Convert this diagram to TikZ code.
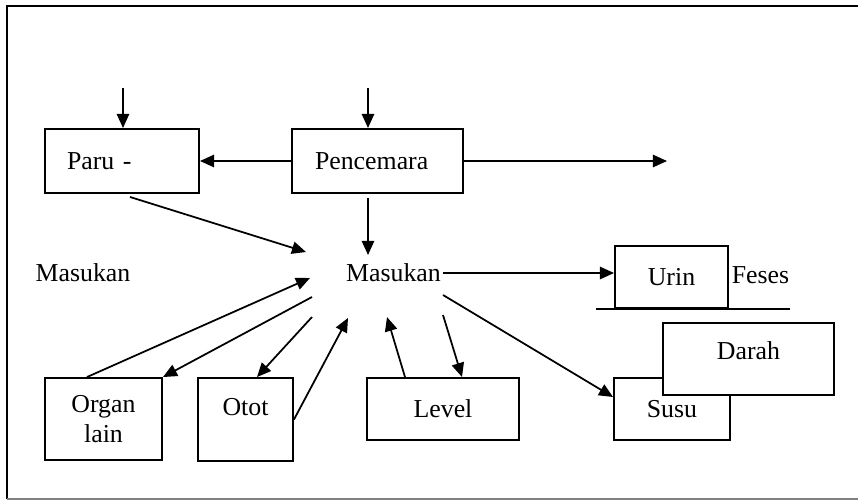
\documentclass[tikz,border=0pt]{standalone}
\usepackage{fontspec}
\setmainfont{Liberation Serif}
\usetikzlibrary{arrows.meta}
\usetikzlibrary{calc}
\newlength\px
\setlength\px{0.02cm}

\begin{document}
\begin{tikzpicture}[x=\px, y=-\px, font=\fontsize{14.7}{17}\selectfont,
	box/.style={draw, line width=1.1pt, inner sep=0pt, fill=white, align=center},
	flow/.style={-{Triangle[length=8pt,width=7pt]}, line width=1pt}]
	\useasboundingbox (0,0) rectangle (858,501);
	% frame
	\draw[line width=1.3pt] (858,6) -- (7,6) -- (7,499);
	\draw[line width=0.8pt, gray] (7,499) -- (858,499);

	% boxes
	\node[box, minimum width=154\px, minimum height=64\px, text width=110\px, align=left] (paru) at (122,161) {Paru -};
	\node[box, minimum width=171\px, minimum height=64\px, text width=125\px, align=left] (penc) at (377.5,161) {Pencemara};
	\node[box, minimum width=113\px, minimum height=62\px] (urin) at (671.5,277) {Urin};
	\node[box, minimum width=116\px, minimum height=62\px] (susu) at (672,409) {Susu};
	\node[box, minimum width=171\px, minimum height=72\px, text depth=10pt] (darah) at (748.5,359) {Darah};
	\node[box, minimum width=152\px, minimum height=62\px] (level) at (443,409) {Level};
	\node[box, minimum width=95\px, minimum height=83\px, text depth=14pt] (otot) at (245.5,419.5) {Otot};
	\node[box, minimum width=117\px, minimum height=82\px] (organ) at (103.5,419) {Organ\\lain};

	% texts
	\node[inner sep=1pt] (mas) at (393.5,273) {Masukan};
	\node[inner sep=1pt] (masl) at (83,273) {Masukan};
	\node[inner sep=1pt] (feses) at (760.5,275) {Feses};
	\draw[line width=1.1pt] ($(urin.south west)+(-18,0)$) -- ($(urin.south east)+(61,0)$);

	% free ends
	\coordinate (paruin) at (123,88);
	\coordinate (pencin) at (368,88);
	\coordinate (pencout) at (667,161);
	\coordinate (mA) at (443,295);
	\coordinate (mB) at (443,315);
	\coordinate (mC) at (387,317);
	\coordinate (mD) at (348,318);
	\coordinate (mE) at (312,317);
	\coordinate (mF) at (312,297);
	\coordinate (mG) at (310,278);
	\coordinate (mH) at (306,252);
	\coordinate (mI) at (368,255);

	% arrows
	\draw[flow] (paruin) -- (paruin |- paru.north);
	\draw[flow] (pencin) -- (pencin |- penc.north);
	\draw[flow] (penc.west) -- (paru.east);
	\draw[flow] (penc.east) -- (pencout);
	\draw[flow] ($(mI |- penc.south)+(0,4)$) -- (mI);
	\draw[flow] ($(paru.south)+(8,3)$) -- (mH);
	\draw[flow] (mas.east) -- (mas.east -| urin.west);
	\draw[flow] (mA) -- ($(susu.west)+(0,-12)$);
	\draw[flow] (mB) -- ($(level.north)+(19,0)$);
	\draw[flow] ($(level.north)+(-38,0)$) -- (mC);
	\draw[flow] (otot.east) -- (mD);
	\draw[flow] (mE) -- ($(otot.north)+(11.5,0)$);
	\draw[flow] (mF) -- (organ.north east);
	\draw[flow] ($(organ.north)+(-16.5,0)$) -- (mG);
\end{tikzpicture}
\end{document}
